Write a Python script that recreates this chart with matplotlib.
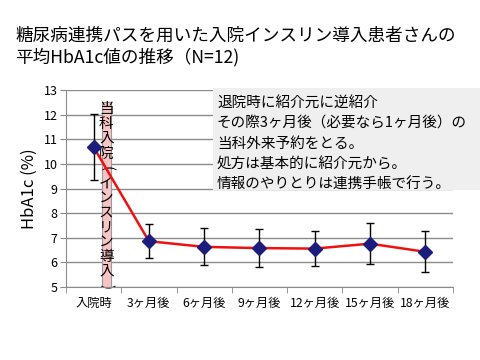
import matplotlib
matplotlib.use('Agg')
import matplotlib.pyplot as plt
from matplotlib.patches import Rectangle

plt.rcParams['font.family'] = ['Noto Sans CJK JP', 'DejaVu Sans']

# data
categories = ['入院時', '3ヶ月後', '6ヶ月後', '9ヶ月後', '12ヶ月後', '15ヶ月後', '18ヶ月後']
hba1c_mean = [10.68, 6.86, 6.63, 6.58, 6.56, 6.76, 6.43]
hba1c_sd = [1.34, 0.69, 0.75, 0.77, 0.72, 0.84, 0.84]

title = '糖尿病連携パスを用いた入院インスリン導入患者さんの\n平均HbA1c値の推移（N=12)'
band_text = '当科入院(インスリン導入)'
note_lines = ['退院時に紹介元に逆紹介',
              'その際3ヶ月後（必要なら1ヶ月後）の',
              '当科外来予約をとる。',
              '処方は基本的に紹介元から。',
              '情報のやりとりは連携手帳で行う。']

fig = plt.figure(figsize=(4.8, 3.6), dpi=100)
ax = fig.add_axes([0.1375, 0.2028, 0.806, 0.547])

x = list(range(len(categories)))
ax.errorbar(x, hba1c_mean, yerr=hba1c_sd, fmt='none', ecolor='black',
            elinewidth=1, capsize=3, capthick=1, zorder=3)
ax.plot(x, hba1c_mean, color='#ee1111', lw=1.8, zorder=4)
ax.plot(x, hba1c_mean, ls='none', marker='D', ms=7, color='#1c1c7c',
        mec='#1c1c7c', zorder=5)

ax.set_xlim(-0.5, 6.5)
ax.set_ylim(5, 13)
ax.set_yticks(range(5, 14))
ax.set_xticks(x)
ax.set_xticklabels(categories, fontsize=8.8)
ax.set_xticks([i - 0.5 for i in range(len(categories) + 1)], minor=True)
ax.tick_params(axis='x', which='major', length=0, pad=7)
ax.tick_params(axis='x', which='minor', length=4, color='#888888', direction='out')
ax.tick_params(axis='y', labelsize=9, length=4, color='#888888', pad=2)
ax.set_ylabel('HbA1c (%)', fontsize=12, labelpad=4)
ax.yaxis.grid(True, color='#8c8c8c', lw=1)
ax.set_axisbelow(True)
for s in ['top', 'right']:
    ax.spines[s].set_visible(False)
for s in ['left', 'bottom']:
    ax.spines[s].set_color('#8c8c8c')

# pink band: admission / insulin start
band = Rectangle((0.145, 5), 0.17, 7.52, facecolor='#f8c4c4', edgecolor='#999999',
                 lw=0.8, zorder=2)
ax.add_patch(band)
for i, ch in enumerate(band_text):
    rot = -90 if ch in '()' else 0
    t = ax.text(0.23, 12.22 - i * 0.6, ch, ha='center', va='center', fontsize=10.5,
                rotation=rot, zorder=2.5)
    t.set_clip_path(band)

# note box
fig.patches.append(Rectangle((213 / 480, 1 - 190 / 360), 267 / 480, 102 / 360,
                             transform=fig.transFigure, facecolor='#efefef',
                             edgecolor='none', zorder=6))
for i, line in enumerate(note_lines):
    fig.text(217 / 480, 1 - (103 + i * 20.5) / 360, line, fontsize=10.5,
             va='center', ha='left', zorder=7)

fig.text(15 / 480, 1 - 47 / 360, title, fontsize=12.7, va='center', ha='left',
         linespacing=1.2)

fig.savefig('out.png', dpi=100)
